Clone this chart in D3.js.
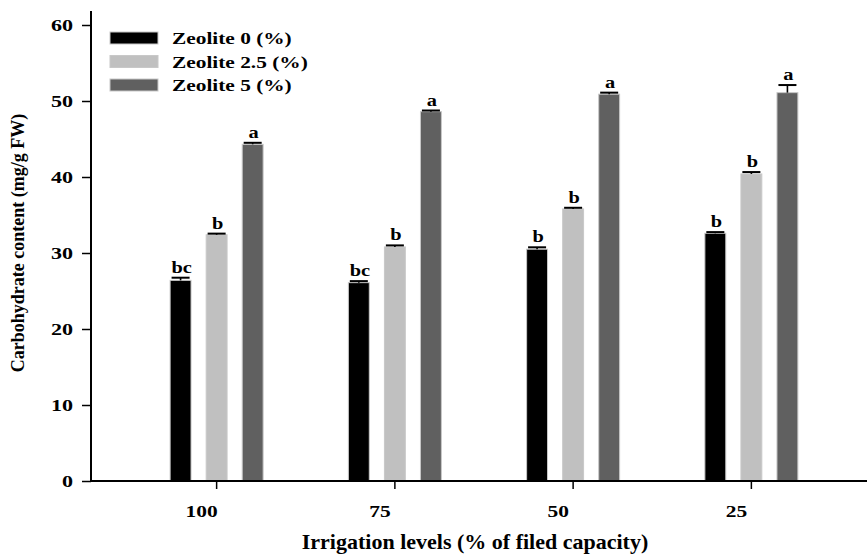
<!DOCTYPE html>
<html>
<head>
<meta charset="utf-8">
<script src="https://cdn.jsdelivr.net/npm/d3@7"></script>
<style>
  body { margin: 0; background: #fff; }
  svg text { font-family: "Liberation Serif", "Times New Roman", serif; font-weight: bold; fill: #000; }
</style>
</head>
<body>
<div id="chart"></div>
<script>
// Carbohydrate content by irrigation level and zeolite dose
const levels = ['100', '75', '50', '25'];
const series = ['Zeolite 0 (%)', 'Zeolite 2.5 (%)', 'Zeolite 5 (%)'];
const zeolite0 = [26.4, 26.1, 30.5, 32.6];
const zeolite25 = [32.4, 30.8, 35.8, 40.4];
const zeolite5 = [44.3, 48.6, 50.9, 51.1];
const err0 = [0.35, 0.2, 0.25, 0.15];
const err25 = [0.15, 0.2, 0.15, 0.25];
const err5 = [0.2, 0.15, 0.2, 1.0];
const letters0 = ['bc', 'bc', 'b', 'b'];
const letters25 = ['b', 'b', 'b', 'b'];
const letters5 = ['a', 'a', 'a', 'a'];
const yTicks = [0, 10, 20, 30, 40, 50, 60];

const values = [zeolite0, zeolite25, zeolite5];
const errors = [err0, err25, err5];
const letters = [letters0, letters25, letters5];
const colors = ['#000000', '#c0c0c0', '#606060'];

const data = [];
levels.forEach((lv, i) => {
    series.forEach((s, j) => {
        data.push({level: lv, series: s, value: values[j][i], err: errors[j][i], letter: letters[j][i], color: colors[j]});
    });
});

const width = 867, height = 554;
const svg = d3.select('#chart').append('svg')
    .attr('width', width)
    .attr('height', height);

const x = d3.scaleBand()
    .domain(levels)
    .range([127.5, 840.5])
    .padding(0);

const xs = d3.scaleBand()
    .domain(series)
    .range([-46.5, 46.5])
    .paddingInner(0.42)
    .paddingOuter(0);

const y = d3.scaleLinear()
    .domain([0, 60])
    .range([481, 25]);

const axisX = 91;
const barCenter = d => x(d.level) + x.bandwidth() / 2 + xs(d.series) + xs.bandwidth() / 2;

// bars
svg.append('g').selectAll('rect')
    .data(data)
    .enter().append('rect')
    .attr('x', d => x(d.level) + x.bandwidth() / 2 + xs(d.series))
    .attr('y', d => y(d.value))
    .attr('width', xs.bandwidth())
    .attr('height', d => y(0) - y(d.value))
    .attr('fill', d => d.color)
    .attr('stroke', '#c8c8c8')
    .attr('stroke-width', 1);

// error bars (upper only)
const eb = svg.append('g').attr('stroke', '#000').attr('stroke-width', 1.6);
data.forEach(d => {
    const cx = barCenter(d);
    eb.append('line')
        .attr('x1', cx).attr('x2', cx)
        .attr('y1', y(d.value)).attr('y2', y(d.value + d.err));
    eb.append('line')
        .attr('x1', cx - 9).attr('x2', cx + 9)
        .attr('y1', y(d.value + d.err)).attr('y2', y(d.value + d.err))
        .attr('stroke-width', 2);
});

// significance letters
svg.append('g').selectAll('text')
    .data(data)
    .enter().append('text')
    .attr('transform', d => `translate(${barCenter(d) + 1},${y(d.value + d.err) - 5}) scale(1.2,1)`)
    .attr('text-anchor', 'middle')
    .style('font-size', '17px')
    .text(d => d.letter);

// y axis
const yAxis = svg.append('g')
    .attr('transform', `translate(${axisX},0)`)
    .call(d3.axisLeft(y).tickValues(yTicks).tickSize(9).tickFormat(d3.format('d')));
yAxis.select('.domain').remove();
yAxis.append('line')
    .attr('x1', 0).attr('x2', 0)
    .attr('y1', 11).attr('y2', 482)
    .attr('stroke', '#000').attr('stroke-width', 2);
yAxis.selectAll('.tick line').attr('stroke-width', 1.5);
yAxis.selectAll('.tick text')
    .attr('x', 0)
    .attr('dy', '0.34em')
    .attr('transform', 'translate(-18,0) scale(1.3,1)')
    .style('font-size', '17px');

// x axis
const xAxis = svg.append('g')
    .attr('transform', 'translate(0,481)')
    .call(d3.axisBottom(x).tickSize(8));
xAxis.select('.domain').remove();
xAxis.append('line')
    .attr('x1', axisX).attr('x2', width)
    .attr('y1', 0).attr('y2', 0)
    .attr('stroke', '#000').attr('stroke-width', 2);
xAxis.selectAll('.tick line').attr('stroke-width', 1.5);
xAxis.selectAll('.tick text')
    .attr('y', 0)
    .attr('dy', 0)
    .attr('transform', 'translate(-15,36) scale(1.3,1)')
    .style('font-size', '16.5px');

// axis titles
svg.append('text')
    .attr('x', 475)
    .attr('y', 549)
    .attr('text-anchor', 'middle')
    .style('font-size', '22px')
    .text('Irrigation levels (% of filed capacity)');

svg.append('text')
    .attr('transform', 'translate(24,243) rotate(-90)')
    .attr('text-anchor', 'middle')
    .style('font-size', '18px')
    .text('Carbohydrate content (mg/g FW)');

// legend
const legend = svg.append('g');
series.forEach((s, j) => {
    const cy = 38 + j * 23.5;
    legend.append('rect')
        .attr('x', 110).attr('y', cy - 6)
        .attr('width', 48).attr('height', 12)
        .attr('fill', colors[j])
        .attr('stroke', '#c8c8c8').attr('stroke-width', 1);
    legend.append('text')
        .attr('transform', `translate(172,${cy + 6}) scale(1.22,1)`)
        .style('font-size', '17.5px')
        .text(s);
});
</script>
</body>
</html>
